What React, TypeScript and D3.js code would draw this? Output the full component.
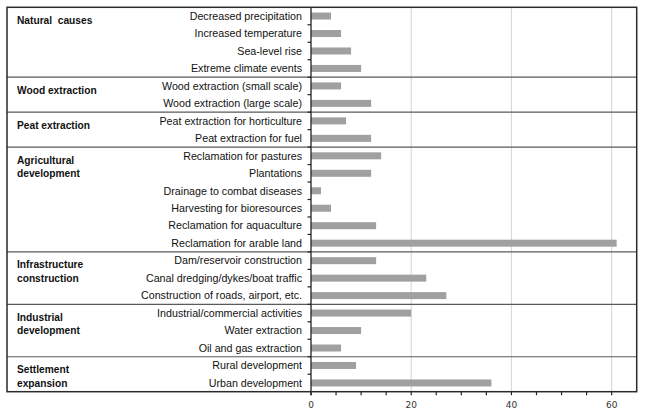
import React from "react";
import * as d3 from "d3";

const groupLabels: string[][] = [
  ["Natural  causes"],
  ["Wood extraction"],
  ["Peat extraction"],
  ["Agricultural", "development"],
  ["Infrastructure", "construction"],
  ["Industrial", "development"],
  ["Settlement", "expansion"],
];
const groupSizes: number[] = [4, 2, 2, 6, 3, 3, 2];

const categories: string[] = [
  "Decreased precipitation",
  "Increased temperature",
  "Sea-level rise",
  "Extreme climate events",
  "Wood extraction (small scale)",
  "Wood extraction (large scale)",
  "Peat extraction for horticulture",
  "Peat extraction for fuel",
  "Reclamation for pastures",
  "Plantations",
  "Drainage to combat diseases",
  "Harvesting for bioresources",
  "Reclamation for aquaculture",
  "Reclamation for arable land",
  "Dam/reservoir construction",
  "Canal dredging/dykes/boat traffic",
  "Construction of roads, airport, etc.",
  "Industrial/commercial activities",
  "Water extraction",
  "Oil and gas extraction",
  "Rural development",
  "Urban development",
];
const values: number[] = [4, 6, 8, 10, 6, 12, 7, 12, 14, 12, 2, 4, 13, 61, 13, 23, 27, 20, 10, 6, 9, 36];

const majorTicks: number[] = [0, 20, 40, 60];

export default function App() {
  const W = 645;
  const H = 415;
  const left = 7;
  const right = 636.7;
  const top = 7.3;
  const bottom = 391.7;
  const axisX = 311;

  const x = d3.scaleLinear().domain([0, 65]).range([axisX, right]);
  const y = d3.scaleBand<string>().domain(categories).range([top, bottom]).paddingInner(0).paddingOuter(0);
  const bw = y.bandwidth();
  const barH = 7;

  const minorTicks = x.ticks(13).filter((t) => t < 65);

  // group boundaries
  let acc = 0;
  const groups = groupSizes.map((n, i) => {
    const start = acc;
    acc += n;
    return { start, end: acc, label: groupLabels[i] };
  });

  const rowTop = (i: number) => (i < categories.length ? (y(categories[i]) as number) : bottom);

  return (
    <svg
      width={W}
      height={H}
      style={{ position: "absolute", left: 0, top: 0, background: "#fff" }}
      fontFamily="'Liberation Sans', Arial, sans-serif"
    >
      {/* gridlines */}
      {majorTicks
        .filter((t) => t > 0)
        .map((t) => (
          <line key={"g" + t} x1={x(t)} x2={x(t)} y1={top} y2={bottom} stroke="#d6dcdd" strokeWidth={1.2} />
        ))}

      {/* bars */}
      {categories.map((c, i) => (
        <rect
          key={c}
          x={x(0)}
          y={(y(c) as number) + bw / 2 - barH / 2}
          width={x(values[i]) - x(0)}
          height={barH}
          fill="#a0a0a0"
        />
      ))}

      {/* group separators */}
      {groups.slice(1).map((g, i) => (
        <line
          key={"s" + i}
          x1={left}
          x2={right}
          y1={rowTop(g.start)}
          y2={rowTop(g.start)}
          stroke="#5a5a5a"
          strokeWidth={1.2}
        />
      ))}

      {/* y axis ticks */}
      {categories.slice(1).map((c, i) => (
        <line key={"yt" + i} x1={axisX - 3.5} x2={axisX} y1={y(c) as number} y2={y(c) as number} stroke="#222" strokeWidth={1.2} />
      ))}

      {/* axis line */}
      <line x1={axisX} x2={axisX} y1={top} y2={bottom + 3.5} stroke="#222" strokeWidth={1.3} />

      {/* x minor ticks */}
      {minorTicks.map((t) => (
        <line key={"xt" + t} x1={x(t)} x2={x(t)} y1={bottom} y2={bottom + 3.5} stroke="#222" strokeWidth={1.2} />
      ))}

      {/* x tick labels */}
      {majorTicks.map((t) => (
        <text
          key={"xl" + t}
          x={x(t)}
          y={405}
          dy="0.35em"
          textAnchor="middle"
          fontFamily="'DejaVu Sans', Verdana, sans-serif"
          fontSize={9}
          fill="#333"
        >
          {t}
        </text>
      ))}

      {/* category labels */}
      {categories.map((c) => (
        <text
          key={"cl" + c}
          x={302}
          y={(y(c) as number) + bw / 2}
          dy="0.35em"
          textAnchor="end"
          fontSize={10.7}
          fill="#111"
        >
          {c}
        </text>
      ))}

      {/* group labels */}
      {groups.map((g, i) => (
        <text key={"gl" + i} x={17} fontSize={10.2} fontWeight="bold" fill="#111">
          {g.label.map((l, j) => (
            <tspan key={j} x={17} y={rowTop(g.start) + 13 + j * 13.5} dy="0.35em" style={{ whiteSpace: "pre" }}>
              {l}
            </tspan>
          ))}
        </text>
      ))}

      {/* border */}
      <rect x={left} y={top} width={right - left} height={bottom - top} fill="none" stroke="#2a2a2a" strokeWidth={1.5} />
    </svg>
  );
}
